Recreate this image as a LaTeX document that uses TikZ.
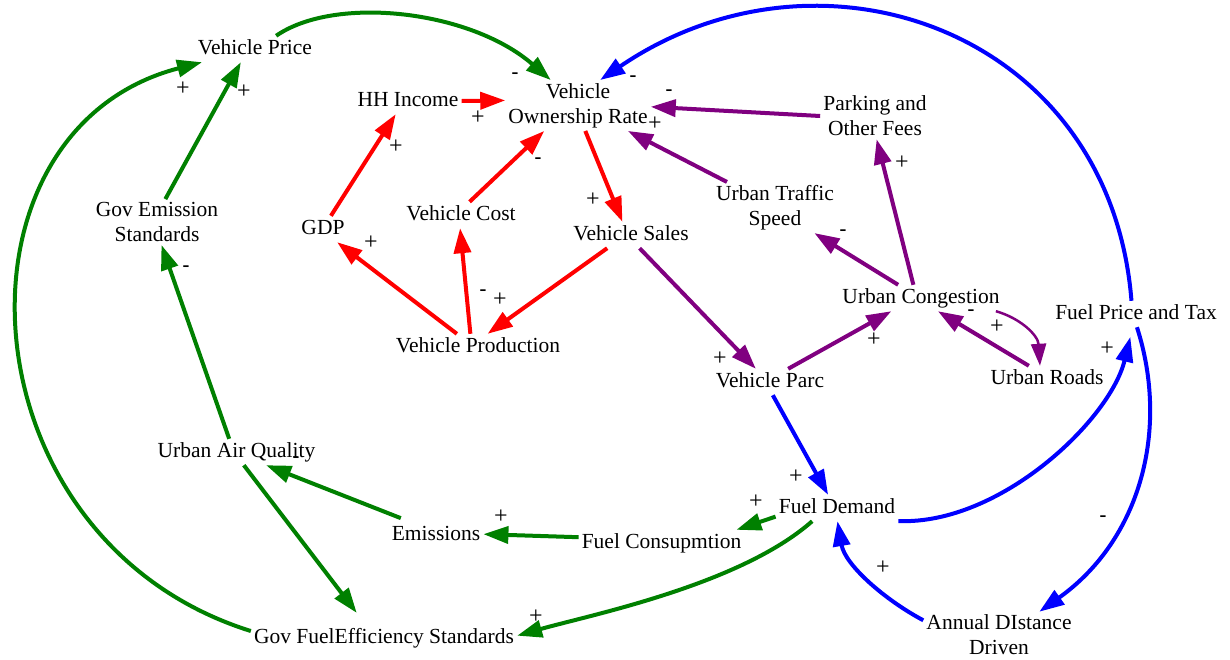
\documentclass[tikz,border=0pt]{standalone}
\usepackage{fontspec}
\setmainfont{Liberation Serif}
\newfontfamily\signfont{Liberation Sans}
\usetikzlibrary{arrows.meta}

\definecolor{cldred}{RGB}{255,0,0}
\definecolor{cldgreen}{RGB}{0,128,0}
\definecolor{cldblue}{RGB}{0,0,255}
\definecolor{cldpurple}{RGB}{128,0,128}

\begin{document}
\begin{tikzpicture}[x=1pt,y=-1pt,
  var/.style={inner sep=3pt, font=\fontsize{21.5}{25}\selectfont, text height=15pt, text depth=5pt},
  var2/.style={inner sep=3pt, align=center, font=\fontsize{21.5}{25}\selectfont},
  link/.style={line width=4pt, -{Triangle[length=25pt,width=17pt]}},
  thinlink/.style={line width=2.5pt, -{Triangle[length=22pt,width=15pt]}},
  plussign/.style={inner sep=0pt, font=\fontsize{24}{24}\selectfont},
  minussign/.style={inner sep=0pt, font=\signfont\fontsize{22}{22}\selectfont},
]
\useasboundingbox (0,0) rectangle (1230,659);
\fill[white] (0,0) rectangle (1230,659);

% variables
\node[var]  (vp)    at (255,49)    {Vehicle Price};
\node[var2] (vor)   at (578,105.5) {Vehicle\\Ownership Rate};
\node[var]  (hh)    at (408,101)   {HH Income};
\node[var]  (gdp)   at (323,229)   {GDP};
\node[var]  (vc)    at (461,215)   {Vehicle Cost};
\node[var]  (vs)    at (631,235)   {Vehicle Sales};
\node[var]  (vprod) at (478,347)   {Vehicle Production};
\node[var2] (park)  at (875,116)   {Parking and\\Other Fees};
\node[var2] (uts)   at (775,207.5) {Urban Traffic\\Speed};
\node[var]  (uc)    at (921,298)   {Urban Congestion};
\node[var]  (fpt)   at (1136,314)  {Fuel Price and Tax};
\node[var]  (ur)    at (1047,379)  {Urban Roads};
\node[var]  (parc)  at (770,382)   {Vehicle Parc};
\node[var]  (fd)    at (837,508)   {Fuel Demand};
\node[var]  (fc)    at (661.5,543) {Fuel Consupmtion};
\node[var]  (em)    at (436,535)   {Emissions};
\node[var]  (uaq)   at (236.5,452) {Urban Air Quality};
\node[var2] (ges)   at (157,222)   {Gov Emission\\Standards};
\node[var]  (gfe)   at (384,638)   {Gov FuelEfficiency Standards};
\node[var2] (add)   at (999,635)   {Annual DIstance\\Driven};

% economic links
\begin{scope}[cldred]
\draw[link] (hh.east) -- (vor.176);
\draw[link] (gdp.59.5) -- (hh.-133);
\draw[link] (vc.57) -- (vor.-143.4);
\draw[link] (vor.-74) -- (vs.123);
\draw[link] (vs.209.5) -- (vprod.54.8);
\draw[link] (vprod.148.7) -- (gdp.-43.3);
\draw[link] (vprod.120) -- (vc.-94);
\end{scope}

% traffic links
\begin{scope}[cldpurple]
\draw[link] (park.180) -- (vor.-1);
\draw[link] (uts.152.6) -- (vor.-27.5);
\draw[link] (uc.150) -- (uts.-33.5);
\draw[link] (uc.120) -- (park.-86);
\draw[link] (vs.-57) -- (parc.137);
\draw[link] (parc.36.5) -- (uc.204);
\draw[link] (ur.144.7) -- (uc.-38);
\draw[thinlink] (uc.-10) .. controls (1020,318) and (1038,335) .. (ur.118);
\end{scope}

% fuel links
\begin{scope}[cldblue]
\draw[link] (fpt.109) .. controls (1110,30) and (820,-70) .. (vor.49);
\draw[link] (fpt.-86) .. controls (1170,430) and (1140,540) .. (add.30);
\draw[link, shorten >=10pt] (fd.-12.8) .. controls (1000,525) and (1110,420) .. (fpt.-104);
\draw[link] (parc.-78) -- (fd.124.5);
\draw[link] (add.169) .. controls (885,600) and (845,565) .. (fd.-88);
\end{scope}

% environment links
\begin{scope}[cldgreen]
\draw[link] (vp.32.6) .. controls (335,-5) and (470,10) .. (vor.137.4);
\draw[link] (ges.70) -- (vp.-137);
\draw[link] (gfe.177.6) .. controls (-40,540) and (-60,130) .. (vp.-166.7);
\draw[link] (uaq.119) -- (ges.-79);
\draw[link, shorten >=15pt] (uaq.-61) -- (gfe.144);
\draw[link, shorten <=10pt] (em.153.4) -- (uaq.-24.5);
\draw[link] (fc.176) -- (em.1);
\draw[link] (fd.188.5) -- (fc.10);
\draw[link] (fd.208) .. controls (740,585) and (590,615) .. (gfe.1);
\end{scope}

% polarity signs
\node[plussign]  (s1)  at (478,118)   {+};
\node[plussign]  (s2)  at (396,147)   {+};
\node[minussign] (s3)  at (538,161.5) {-};
\node[plussign]  (s4)  at (593,200)   {+};
\node[plussign]  (s5)  at (500,300)   {+};
\node[plussign]  (s6)  at (371,243)   {+};
\node[minussign] (s7)  at (483,293.5) {-};
\node[minussign] (s8)  at (669,93.5)  {-};
\node[plussign]  (s9)  at (655,124)   {+};
\node[minussign] (s10) at (843,233.5) {-};
\node[plussign]  (s11) at (902,163)   {+};
\node[plussign]  (s12) at (720,359)   {+};
\node[plussign]  (s13) at (874,340)   {+};
\node[minussign] (s14) at (971,313.5) {-};
\node[plussign]  (s15) at (997,327)   {+};
\node[minussign] (s16) at (633,79.5)  {-};
\node[minussign] (s17) at (1103,519.5){-};
\node[plussign]  (s18) at (1107,349)  {+};
\node[plussign]  (s19) at (796,477)   {+};
\node[plussign]  (s20) at (883,568)   {+};
\node[minussign] (s21) at (515,76.5)  {-};
\node[plussign]  (s22) at (244,92)    {+};
\node[plussign]  (s23) at (183,89)    {+};
\node[minussign] (s24) at (186,269.5) {-};
\node[minussign] (s26) at (296,460)   {-};
\node[plussign]  (s27) at (501,517)   {+};
\node[plussign]  (s28) at (756,502)   {+};
\node[plussign]  (s29) at (536,617)   {+};
\end{tikzpicture}
\end{document}
